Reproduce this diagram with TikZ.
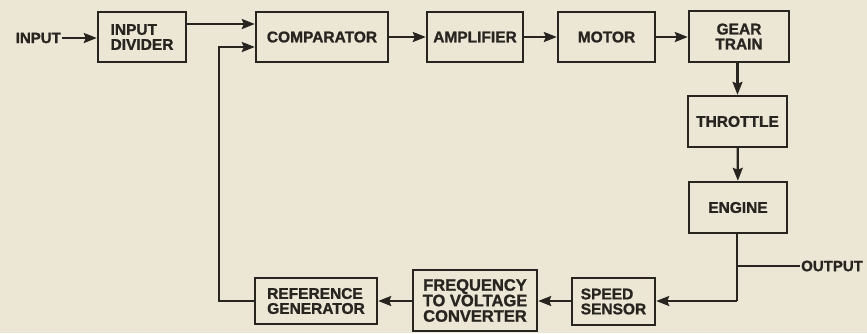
\documentclass[tikz,border=0pt]{standalone}
\usepackage{fontspec}
\setmainfont{Liberation Sans}[FakeBold=1.2]
\usetikzlibrary{arrows.meta}
\definecolor{paper}{RGB}{236,230,212}
\definecolor{ink}{RGB}{40,36,32}
\begin{document}
\begin{tikzpicture}[x=1pt, y=-1pt,
    block/.style={draw=ink, line width=2.4pt, fill=paper, inner sep=2pt,
        font=\fontsize{15.5}{15}\selectfont\bfseries, text=ink},
    lbl/.style={font=\fontsize{15}{15}\selectfont\bfseries, text=ink, inner sep=1pt},
    link/.style={draw=ink, line width=2.2pt, -{Stealth[length=13pt,width=10pt,inset=2pt]}},
    wire/.style={draw=ink, line width=2.2pt}]
    % Background and bounding box
    \fill[paper] (0,0) rectangle (867,333);
    \useasboundingbox (0,0) rectangle (867,333);

    % Top row
    \node[block, minimum width=88pt, minimum height=50pt, align=left] (indiv) at (142,37) {INPUT\\DIVIDER};
    \node[block, minimum width=132pt, minimum height=50pt] (comp) at (322,37) {COMPARATOR};
    \node[block, minimum width=96pt, minimum height=50pt] (amp) at (475,37) {AMPLIFIER};
    \node[block, minimum width=97pt, minimum height=50pt] (motor) at (606.5,37) {MOTOR};
    \node[block, minimum width=100pt, minimum height=51pt, align=center] (gear) at (739,36.5) {GEAR\\TRAIN};

    % Right column
    \node[block, minimum width=99pt, minimum height=51pt] (throt) at (737.5,121.5) {THROTTLE};
    \node[block, minimum width=98pt, minimum height=51pt] (engine) at (738,207.5) {ENGINE};

    % Bottom row
    \node[block, minimum width=83pt, minimum height=47pt, align=left] (speed) at (613.5,301.5) {SPEED\\SENSOR};
    \node[block, minimum width=124pt, minimum height=61pt, align=center,
        font=\fontsize{16.5}{15.5}\selectfont\bfseries] (fvc) at (475,300.5) {FREQUENCY\\TO VOLTAGE\\CONVERTER};
    \node[block, minimum width=122pt, minimum height=46pt, align=left] (refgen) at (316,301) {REFERENCE\\GENERATOR};

    % Input and output labels
    \node[lbl, anchor=east] (input) at (62,38) {INPUT};
    \node[lbl, anchor=west] (output) at (800,266) {OUTPUT};

    % Helper points
    \coordinate (tap) at (737,301);
    \coordinate (branch) at (737,266);
    \coordinate (fbk) at (219,47);

    % Forward path
    \draw[link] (input.east) -- (indiv.west |- input.east);
    \draw[link] (indiv.east |- 0,24) -- (comp.west |- 0,24);
    \draw[link] (comp) -- (amp);
    \draw[link] (amp) -- (motor);
    \draw[link] (motor) -- (motor -| gear.west);
    \draw[link] (gear.south -| throt.north) -- (throt.north);
    \draw[link] (throt) -- (engine);

    % Output branch and feedback path
    \draw[wire] (engine.south -| tap) -- (tap);
    \draw[wire] (branch) -- (output.west);
    \draw[link] (tap) -- (speed.east |- tap);
    \draw[link] (speed.west |- tap) -- (fvc.east |- tap);
    \draw[link] (fvc.west |- tap) -- (refgen.east |- tap);
    \draw[link] (refgen.west |- tap) -| (fbk) -- (comp.west |- fbk);
\end{tikzpicture}
\end{document}
